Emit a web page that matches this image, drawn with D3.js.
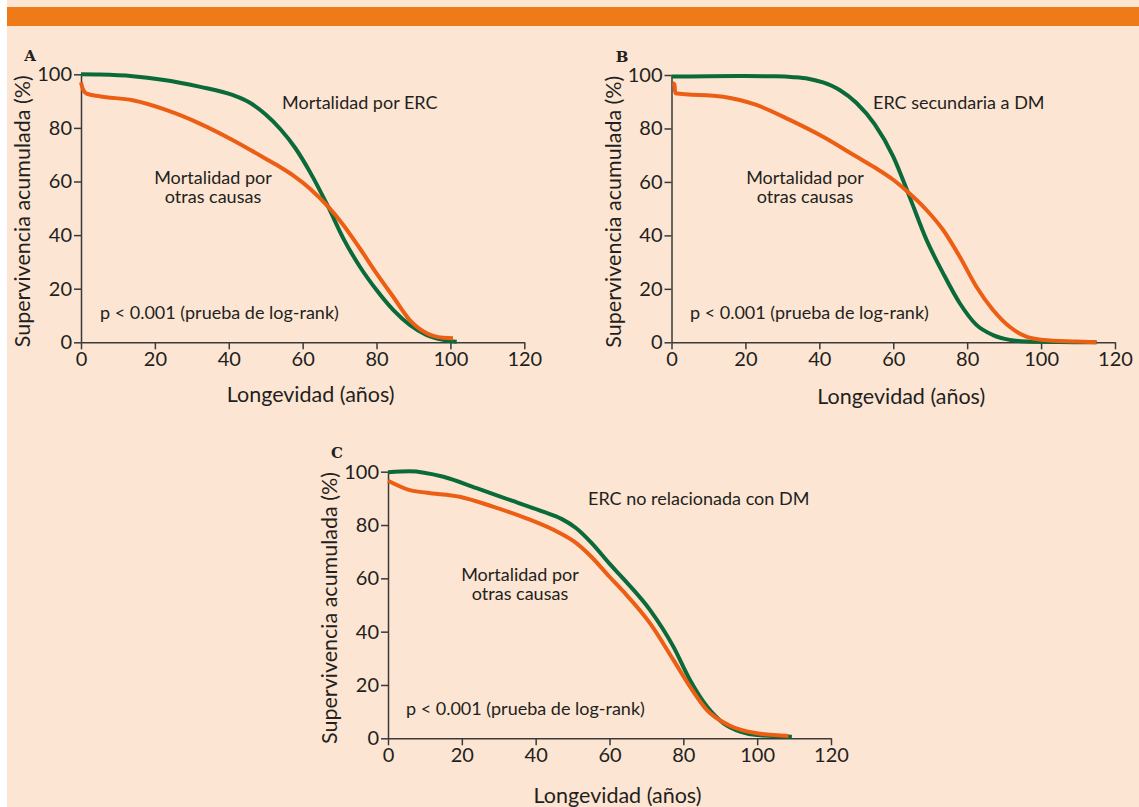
<!doctype html>
<html>
<head>
  <meta charset='utf-8'>
  <style>
    body { margin: 0; background: #fff; }
    svg text { font-family: Lato, 'Noto Sans', sans-serif; fill: #231f20; }
    .tick text { font-size: 20px; }
    .axis path, .axis line { stroke: #3a3a3a; stroke-width: 1.5; }
    .title { font-size: 21.5px; }
    .note { font-size: 18px; }
    .letter { font-family: 'DejaVu Serif', serif; font-weight: bold; font-size: 15px; }
    .curve { fill: none; stroke-width: 4; stroke-linejoin: round; }
  </style>
</head>
<body>
  <svg width='1139' height='807'></svg>
  <script src='https://d3js.org/d3.v7.min.js'></script>
  <script>
    // ---- data (age in years, cumulative survival %) ----
    var xTicks = [0, 20, 40, 60, 80, 100, 120];
    var yTicks = [0, 20, 40, 60, 80, 100];

    // A: mortalidad por ERC vs otras causas
    var agesA_erc  = [0, 5, 14, 22, 32, 41, 45.5, 50, 54, 58, 62, 66.9, 71, 75.5, 80, 84.5, 89, 93.6, 98, 101.7];
    var survA_erc  = [100, 99.9, 99.3, 98, 95.4, 92.3, 89.6, 85, 79.5, 72.5, 63.5, 50.6, 38.8, 28.2, 19.5, 12.1, 6.5, 2.7, 0.9, 0.2];
    var agesA_otr  = [0, 0.5, 1.5, 5, 14, 23, 32, 41, 50, 54, 57.5, 62, 66.9, 71, 75.5, 80, 84.5, 89, 93.6, 98, 100.7];
    var survA_otr  = [97, 94.5, 92.8, 91.8, 90.3, 86.7, 81.7, 75.5, 68.5, 65.3, 62.2, 57.3, 50.6, 43.8, 35, 25.7, 17, 8.3, 3.4, 1.7, 1.5];

    // B: ERC secundaria a DM vs otras causas
    var agesB_erc  = [0, 10, 20, 28, 33, 37, 41, 45.5, 50, 55, 60, 64.4, 69, 73.5, 78, 82.5, 87, 91.5, 96, 105, 115];
    var survB_erc  = [99.4, 99.5, 99.6, 99.5, 99.2, 98.6, 97.2, 94.4, 89.6, 81.5, 69.5, 54.5, 38.3, 25.8, 14.6, 6.5, 2.7, 0.9, 0.3, 0.1, 0];
    var agesB_otr  = [0.3, 0.8, 1, 14, 23, 32, 41, 50, 55, 60, 63.5, 69, 73.5, 78, 82.5, 87, 91.5, 96, 100.5, 109.5, 115];
    var survB_otr  = [97, 96.5, 93.2, 91.9, 88.8, 83.2, 76.9, 69.5, 65.4, 60.8, 56.8, 49.5, 42, 32, 20.8, 12.1, 5.8, 2.1, 0.9, 0.3, 0];

    // C: ERC no relacionada con DM vs otras causas
    var agesC_erc  = [0, 5.9, 15, 24, 33, 42, 47, 51, 55, 60, 63.8, 71, 77.3, 81.8, 86.4, 90.9, 95.4, 99.9, 109.4];
    var survC_erc  = [99.8, 100.2, 98.1, 93.8, 89.4, 85, 82.3, 78.8, 73.5, 65.5, 59.8, 48.1, 34.4, 21.9, 11.9, 5.6, 2.5, 1.2, 0.6];
    var agesC_otr  = [0, 5.9, 10.5, 19.4, 28.4, 37.5, 46.5, 51, 55, 60, 63.8, 71, 77.3, 81.8, 86.4, 92.2, 99.9, 108.5];
    var survC_otr  = [96.6, 93.1, 92.1, 90.6, 86.9, 82.5, 77, 73.2, 68.2, 60.6, 55, 43.1, 29.4, 19.4, 10.6, 5, 1.9, 0.9];

    var green = '#0b6a3a', orange = '#ec5e14';

    var svg = d3.select('svg');
    svg.append('rect').attr('x', 7).attr('y', 0).attr('width', 1132).attr('height', 807).attr('fill', '#fde5d3');
    svg.append('rect').attr('x', 7).attr('y', 7).attr('width', 1132).attr('height', 19).attr('fill', '#ee7a18');

    function zip(a, b) { return a.map(function(d, i) { return [d, b[i]]; }); }

    var panels = [
      { letter: 'A', x0: 81, x1: 524.3, y0: 342.3, y1: 74.3, lx: 30, ly: 56, titleY: 394,
        erc: zip(agesA_erc, survA_erc), otr: zip(agesA_otr, survA_otr),
        label: 'Mortalidad por ERC', labX: 282, labY: 102, otrX: 213, otrY: 176.5, pX: 100, pY: 312 },
      { letter: 'B', x0: 671.5, x1: 1115, y0: 342.3, y1: 75, lx: 622, ly: 57, titleY: 396,
        erc: zip(agesB_erc, survB_erc), otr: zip(agesB_otr, survB_otr),
        label: 'ERC secundaria a DM', labX: 873, labY: 102, otrX: 805, otrY: 176.5, pX: 690, pY: 312 },
      { letter: 'C', x0: 388, x1: 831, y0: 738.3, y1: 471.7, lx: 337, ly: 453, titleY: 795,
        erc: zip(agesC_erc, survC_erc), otr: zip(agesC_otr, survC_otr),
        label: 'ERC no relacionada con DM', labX: 588, labY: 498, otrX: 520, otrY: 573.5, pX: 406, pY: 708 }
    ];

    panels.forEach(function(p) {
      var x = d3.scaleLinear().domain([0, 120]).range([p.x0, p.x1]);
      var y = d3.scaleLinear().domain([0, 100]).range([p.y0, p.y1]);
      var g = svg.append('g');

      g.append('g').attr('class', 'axis')
        .attr('transform', 'translate(0,' + p.y0 + ')')
        .call(d3.axisBottom(x).tickValues(xTicks).tickSize(7).tickSizeOuter(0).tickPadding(3));
      g.append('g').attr('class', 'axis')
        .attr('transform', 'translate(' + p.x0 + ',0)')
        .call(d3.axisLeft(y).tickValues(yTicks).tickSize(7).tickSizeOuter(0).tickPadding(2));
      g.selectAll('.tick text').attr('fill', '#231f20');
      g.selectAll('.axis').attr('font-family', null).attr('font-size', null);

      var line = d3.line()
        .x(function(d) { return x(d[0]); })
        .y(function(d) { return y(d[1]); })
        .curve(d3.curveMonotoneX);

      g.append('path').attr('class', 'curve').attr('stroke', green).attr('d', line(p.erc));
      g.append('path').attr('class', 'curve').attr('stroke', orange).attr('d', line(p.otr));

      g.append('text').attr('class', 'title')
        .attr('transform', 'translate(' + (p.x0 - 59) + ',' + ((p.y0 + p.y1) / 2 + 3) + ') rotate(-90)')
        .attr('text-anchor', 'middle').attr('dominant-baseline', 'central')
        .text('Supervivencia acumulada (%)');
      g.append('text').attr('class', 'title')
        .attr('x', (p.x0 + p.x1) / 2 + 8).attr('y', p.titleY)
        .attr('text-anchor', 'middle').attr('dominant-baseline', 'central')
        .text('Longevidad (años)');

      g.append('text').attr('class', 'letter')
        .attr('x', p.lx).attr('y', p.ly).attr('text-anchor', 'middle').attr('dominant-baseline', 'central')
        .text(p.letter);

      g.append('text').attr('class', 'note')
        .attr('x', p.labX).attr('y', p.labY).attr('dominant-baseline', 'central')
        .text(p.label);
      // two-line label, kept as one text element with tspans
      var two = g.append('text').attr('class', 'note')
        .attr('x', p.otrX).attr('y', p.otrY).attr('text-anchor', 'middle').attr('dominant-baseline', 'central');
      two.append('tspan').attr('x', p.otrX).attr('y', p.otrY).text('Mortalidad por');
      two.append('tspan').attr('x', p.otrX).attr('y', p.otrY + 19).text('otras causas');
      g.append('text').attr('class', 'note')
        .attr('x', p.pX).attr('y', p.pY).attr('dominant-baseline', 'central')
        .text('p < 0.001 (prueba de log-rank)');
    });
  </script>
</body>
</html>
